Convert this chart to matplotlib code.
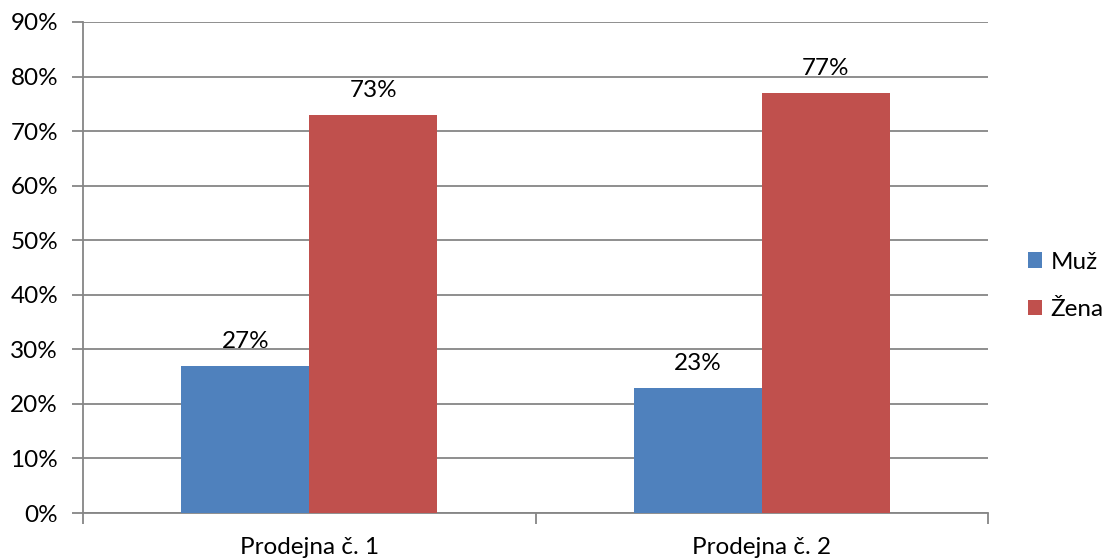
import matplotlib.pyplot as plt
import numpy as np

# Data: share of men / women per shop
stores = ['Prodejna č. 1', 'Prodejna č. 2']
muz = [27, 23]
zena = [73, 77]
series_names = ['Muž', 'Žena']
colors = ['#4F81BD', '#C0504D']

FS = 17.5
plt.rcParams['font.family'] = ['Lato', 'DejaVu Sans']
plt.rcParams['font.size'] = FS

fig = plt.figure(figsize=(11.09, 5.58), dpi=100)
ax = fig.add_axes([83 / 1109, 1 - 513 / 558, 905 / 1109, 491 / 558])

x = np.arange(len(stores))
w = 0.283
bars = []
for i, (vals, name, col) in enumerate(zip([muz, zena], series_names, colors)):
    b = ax.bar(x + (i - 0.5) * w, vals, width=w, color=col, label=name, zorder=3)
    bars.append(b)
    for rect, v in zip(b, vals):
        ax.annotate(f'{v}%', (rect.get_x() + rect.get_width() / 2, v),
                    xytext=(0, 10), textcoords='offset points',
                    ha='center', va='bottom', fontsize=FS)

ax.set_xlim(-0.5, len(stores) - 0.5)
ax.set_ylim(0, 90)
ax.set_yticks(np.arange(0, 91, 10))
ax.set_yticklabels([f'{t}%' for t in range(0, 91, 10)])
ax.yaxis.grid(True, color='#868686', linewidth=1.3, zorder=0)

# category labels centred, tick marks at category boundaries
ax.set_xticks(x)
ax.set_xticklabels(stores)
ax.set_xticks(np.arange(-0.5, len(stores), 1.0), minor=True)
ax.tick_params(axis='x', which='major', length=0, pad=17)
ax.tick_params(axis='x', which='minor', length=8, width=1.3, color='#868686', direction='out')
ax.tick_params(axis='y', length=8, width=1.3, color='#868686', direction='out', pad=10)

for side in ['top', 'right']:
    ax.spines[side].set_visible(False)
for side in ['left', 'bottom']:
    ax.spines[side].set_color('#868686')
    ax.spines[side].set_linewidth(1.3)

fig.legend(handles=bars, labels=series_names, loc='center left',
           bbox_to_anchor=(1028 / 1109, 1 - 286 / 558), frameon=False,
           handlelength=0.58, handleheight=0.58, handletextpad=0.35,
           labelspacing=1.1, fontsize=FS, borderpad=0, borderaxespad=0)

fig.savefig('out.png', dpi=100)
